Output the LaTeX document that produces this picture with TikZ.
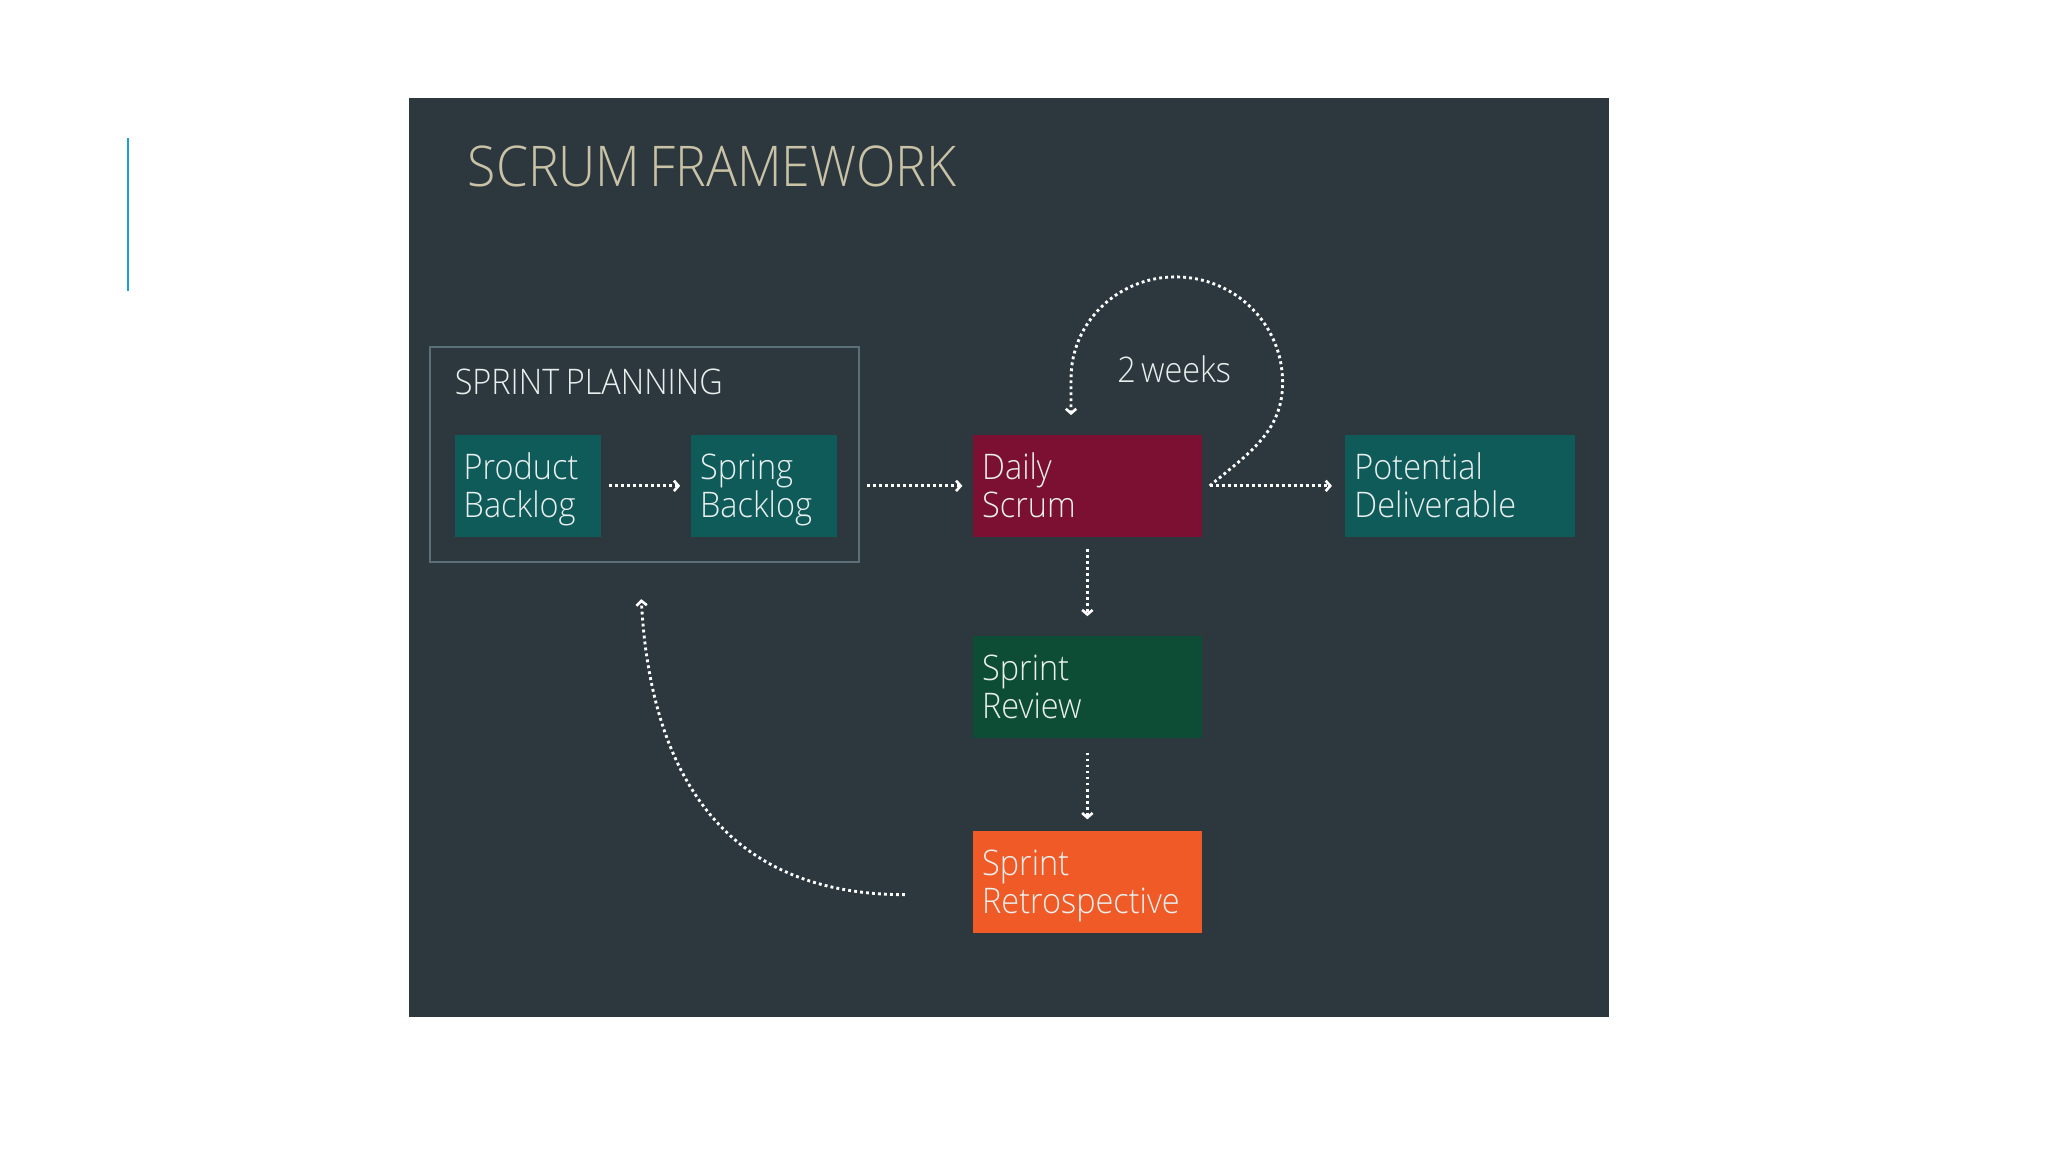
\documentclass[tikz,border=0pt]{standalone}
\usepackage{fontspec}
\setmainfont{Open Sans}
\newfontfamily\titlefont{Open Sans Light}[FakeStretch=0.92]
\newfontfamily\boxfont{Open Sans Light}[FakeStretch=0.92]
\usetikzlibrary{arrows.meta}
\definecolor{panel}{HTML}{2C383E}
\definecolor{titlecol}{HTML}{C9C2A6}
\definecolor{framecol}{HTML}{5B6F78}
\definecolor{tealbox}{HTML}{0E5B5A}
\definecolor{redbox}{HTML}{7B1033}
\definecolor{greenbox}{HTML}{0E4D35}
\definecolor{orangebox}{HTML}{EF5A26}
\definecolor{bluebar}{HTML}{1E9FD8}
\definecolor{boxtext}{HTML}{E9EFEE}
\newcommand\twoline[2]{\rule{0pt}{27pt}#1\\#2\rule[-8pt]{0pt}{8pt}}
\begin{document}
\begin{tikzpicture}[x=1pt,y=1pt,
  stepbox/.style 2 args={rectangle, fill=#1, minimum width=#2, text width=#2-14pt,
    minimum height=78pt, inner xsep=7pt, inner ysep=0pt, align=left,
    text=boxtext, font=\boxfont\fontsize{27}{29}\selectfont},
  flow/.style={draw=white, line width=2.2pt, dash pattern=on 2.2pt off 2.4pt,
    -{Straight Barb[length=3.5pt,width=8pt,line width=2pt]}}
]
\useasboundingbox (0,0) rectangle (1568,882);
\fill[white] (0,0) rectangle (1568,882);
\fill[panel] (313,103) rectangle (1232,807);
\draw[bluebar, line width=2pt] (98,659) -- (98,776);
\node[anchor=base west, text=titlecol, font=\titlefont\fontsize{43}{48}\selectfont, inner sep=0pt] (title) at (358,739) {SCRUM\hspace{7pt}FRAMEWORK};
% sprint planning frame
\node[draw=framecol, line width=1.5pt, minimum width=329pt, minimum height=164pt, inner sep=0pt] (plan) at (493.5,534) {};
\node[anchor=base west, text=boxtext, font=\boxfont\fontsize{27}{30}\selectfont, inner sep=0pt] (plantitle) at (348,580) {SPRINT\hspace{5pt}PLANNING};
% boxes
\node[stepbox={tealbox}{112pt}] (PB) at (404,510) {\twoline{Product}{Backlog}};
\node[stepbox={tealbox}{112pt}] (SB) at (585,510) {\twoline{Spring}{Backlog}};
\node[stepbox={redbox}{175pt}] (DS) at (832.5,510) {\twoline{Daily}{Scrum}};
\node[stepbox={tealbox}{176pt}] (PD) at (1118,510) {\twoline{Potential}{Deliverable}};
\node[stepbox={greenbox}{175pt}] (SR) at (832.5,356) {\twoline{Sprint}{Review}};
\node[stepbox={orangebox}{175pt}] (RE) at (832.5,206.5) {\twoline{Sprint}{Retrospective}};
\node[text=boxtext, font=\boxfont\fontsize{27}{30}\selectfont, inner sep=0pt] (weeks) at (899,599) {2\hspace{4pt}weeks};
% connectors
\draw[flow, shorten <=6pt, shorten >=8pt] (PB.east) -- (SB.west);
\draw[flow, shorten <=5pt, shorten >=8pt] (plan.east |- DS.west) -- (DS.west);
\draw[flow, shorten <=6pt, shorten >=10pt] (DS.east) -- (PD.west);
\draw[flow, shorten <=9pt, shorten >=15pt] (DS.south) -- (SR.north);
\draw[flow, shorten <=11pt, shorten >=9pt] (SR.south) -- (RE.north);
\coordinate (loopstart) at ([xshift=6pt]DS.east);
\coordinate (loopend) at ([xshift=-12.5pt,yshift=15pt]DS.north);
\draw[flow] (loopstart) to[out=40,in=-90] (982,589) to[out=90,in=0] (900,670) to[out=180,in=90] ([yshift=28pt]loopend) -- (loopend);
\coordinate (retstart) at ([xshift=-52pt,yshift=-9.5pt]RE.west);
\coordinate (retend) at ([xshift=-2.5pt,yshift=-28pt]plan.south);
\draw[flow] (retstart) to[out=180,in=-87,looseness=1.15] (retend);
\end{tikzpicture}
\end{document}
